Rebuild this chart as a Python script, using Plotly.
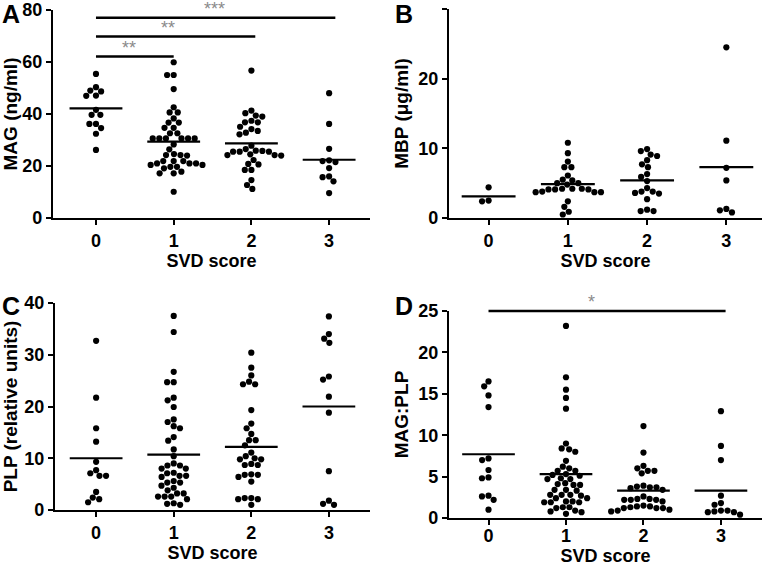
import math
import plotly.graph_objects as go

# ---------------- data ----------------
svd_categories = [0, 1, 2, 3]
svd_tick_labels = ["0", "1", "2", "3"]

# Panel A: MAG (ng/ml)
mag_svd0 = [55.4, 50.3, 49.0, 48.7, 47.0, 47.1, 41.6, 39.7, 39.7, 36.2, 36.2, 34.6, 32.4, 26.2]
mag_svd1 = [59.9, 55.0, 55.0, 49.6, 42.6, 40.6, 40.6, 38.3, 36.7, 36.7, 34.7, 34.7, 32.6, 32.6,
            30.6, 30.6, 30.6, 30.6, 30.6, 30.6, 28.3, 26.4, 24.6, 24.2, 24.2, 24.0, 21.9, 21.9,
            21.9, 21.0, 21.0, 21.0, 20.4, 20.4, 19.7, 19.7, 19.1, 17.8, 17.2, 17.2, 10.1]
mag_svd2 = [56.7, 41.3, 40.3, 39.4, 39.0, 37.4, 36.8, 36.8, 35.1, 34.2, 33.5, 32.8, 32.2, 27.8,
            26.5, 25.9, 25.8, 25.5, 25.5, 25.5, 24.5, 24.2, 24.2, 24.0, 22.3, 20.8, 20.6, 18.5,
            18.5, 14.6, 12.7, 11.2]
mag_svd3 = [48.0, 36.2, 26.6, 21.9, 21.5, 22.2, 19.2, 15.7, 16.0, 14.1, 9.6]
mag_means = [42.2, 29.4, 28.7, 22.4]

# Panel B: MBP (ug/ml)
mbp_svd0 = [4.4, 2.4, 2.5]
mbp_svd1 = [10.8, 9.3, 8.1, 7.3, 7.3, 6.1, 5.4, 5.5, 5.0, 5.0, 4.8, 4.2, 4.1, 4.1, 4.2, 4.1,
            4.2, 3.7, 3.7, 3.8, 3.7, 2.4, 1.6, 0.9, 0.5]
mbp_svd2 = [9.9, 9.6, 9.1, 8.9, 8.3, 7.7, 7.3, 6.3, 5.9, 5.3, 4.3, 3.8, 3.8, 3.6, 3.5, 2.7,
            1.2, 1.0, 1.0]
mbp_svd3 = [24.5, 11.1, 7.2, 5.4, 1.3, 1.1, 0.8]
mbp_means = [3.1, 4.85, 5.4, 7.3]

# Panel C: PLP (relative units)
plp_svd0 = [32.7, 21.7, 15.8, 13.2, 9.3, 7.1, 6.6, 6.6, 7.7, 3.5, 2.4, 2.1, 1.5]
plp_svd1 = [37.5, 34.4, 26.7, 24.7, 24.7, 21.7, 21.2, 19.9, 17.5, 17.0, 16.2, 15.8, 14.1, 13.4,
            11.7, 10.4, 9.0, 8.6, 8.6, 8.0, 8.0, 7.2, 7.1, 6.6, 6.6, 6.4, 5.6, 5.3, 5.3, 4.7,
            4.3, 3.8, 3.2, 3.2, 2.6, 2.6, 2.6, 2.1, 1.3, 1.2, 1.0]
plp_svd2 = [30.4, 27.5, 26.0, 24.3, 24.3, 24.8, 19.3, 16.7, 15.8, 14.7, 13.5, 13.5, 12.5, 11.1,
            10.4, 9.8, 9.8, 10.0, 8.7, 8.9, 8.7, 6.8, 6.9, 6.4, 6.8, 5.5, 2.1, 2.3, 2.1, 2.3, 1.0]
plp_svd3 = [37.4, 34.0, 33.1, 32.3, 25.8, 25.2, 21.9, 18.8, 7.5, 1.8, 1.0, 1.2]
plp_means = [10.0, 10.7, 12.2, 20.0]

# Panel D: MAG:PLP ratio
ratio_svd0 = [16.5, 15.9, 14.8, 13.4, 7.2, 7.0, 5.8, 4.9, 4.8, 2.7, 2.6, 2.2, 1.0]
ratio_svd1 = [23.2, 17.0, 15.5, 14.5, 13.2, 9.0, 8.4, 8.3, 8.0, 6.9, 6.0, 6.2, 5.7, 5.7, 5.1,
              5.2, 5.3, 4.7, 4.7, 4.8, 4.1, 4.0, 4.2, 4.0, 3.4, 3.3, 3.4, 2.8, 2.7, 2.8, 2.4,
              2.4, 2.8, 1.9, 1.9, 2.0, 1.9, 2.0, 1.3, 1.2, 1.3, 0.8, 0.5, 0.7, 0.9]
ratio_svd2 = [11.1, 7.9, 6.3, 5.7, 5.4, 5.7, 6.0, 3.9, 3.7, 3.6, 3.4, 3.7, 3.8, 2.2, 2.2, 2.0,
              2.3, 2.6, 2.2, 2.3, 1.4, 1.3, 1.4, 1.2, 1.5, 1.2, 1.2, 1.0, 0.8, 0.9]
ratio_svd3 = [12.9, 8.7, 7.0, 2.7, 1.8, 1.6, 0.9, 0.7, 0.4, 0.7, 0.8, 0.9]
ratio_means = [7.7, 5.3, 3.3, 3.3]

# significance brackets: (from category, to category, level, stars, star x position)
mag_sig = [(0, 1.0, 62.1, "**", 0.42), (0, 2.05, 69.8, "**", 0.93), (0, 3.08, 77.0, "***", 1.52)]
ratio_sig = [(0, 3.06, 25.0, "*", 1.33)]

# ---------------- layout geometry ----------------
W, H = 765, 566
FONT = "Liberation Sans, Arial, sans-serif"

panels = [
    dict(letter="A", box=(53, 370, 10, 218), xr=(-0.553, 3.526), yr=(0, 80), dtick=20,
         ytitle="MAG (ng/ml)", groups=[mag_svd0, mag_svd1, mag_svd2, mag_svd3],
         means=mag_means, sig=mag_sig, letter_pos=(11, 14), xlab_shift=0, xtitle_gap=3),
    dict(letter="B", box=(449, 762, 9, 218), xr=(-0.50, 3.45), yr=(0, 30), dtick=10,
         ytitle="MBP (\u03bcg/ml)", groups=[mbp_svd0, mbp_svd1, mbp_svd2, mbp_svd3],
         means=mbp_means, sig=[], letter_pos=(404, 14), xlab_shift=0, xtitle_gap=3),
    dict(letter="C", box=(55, 370, 303, 510), xr=(-0.53, 3.53), yr=(0, 40), dtick=10,
         ytitle="PLP (relative units)", groups=[plp_svd0, plp_svd1, plp_svd2, plp_svd3],
         means=plp_means, sig=[], letter_pos=(11, 306), xlab_shift=0, xtitle_gap=3),
    dict(letter="D", box=(449, 762, 311, 518), xr=(-0.51, 3.53), yr=(0, 25), dtick=5,
         ytitle="MAG:PLP", groups=[ratio_svd0, ratio_svd1, ratio_svd2, ratio_svd3],
         means=ratio_means, sig=ratio_sig, letter_pos=(404, 306), xlab_shift=-5, xtitle_gap=1),
]


def swarm(values, ppx, ppy, d=6.6):
    """Deterministic beeswarm offsets (in x data units)."""
    n = len(values)
    order = sorted(range(n), key=lambda i: -values[i])
    placed = []
    offs = [0.0] * n
    for i in order:
        y = values[i] * ppy
        cands = [0.0]
        for (px, py) in placed:
            dy = y - py
            if abs(dy) < d:
                dx = math.sqrt(d * d - dy * dy)
                cands += [px + dx, px - dx]
        cands.sort(key=lambda c: (round(abs(c), 6), c))
        for c in cands:
            if all((c - px) ** 2 + (y - py) ** 2 >= d * d - 1e-6 for px, py in placed):
                offs[i] = c
                placed.append((c, y))
                break
    return [o / ppx for o in offs]


fig = go.Figure()
annotations = []
shapes = []
layout_axes = {}

for k, p in enumerate(panels):
    x0, x1, y0, y1 = p["box"]
    xa = "x" if k == 0 else f"x{k+1}"
    ya = "y" if k == 0 else f"y{k+1}"
    xkey = "xaxis" if k == 0 else f"xaxis{k+1}"
    ykey = "yaxis" if k == 0 else f"yaxis{k+1}"
    ppx = (x1 - x0) / (p["xr"][1] - p["xr"][0])
    ppy = (y1 - y0) / (p["yr"][1] - p["yr"][0])

    xs, ys = [], []
    for cat, vals in zip(svd_categories, p["groups"]):
        offs = swarm(vals, ppx, ppy)
        xs += [cat + o for o in offs]
        ys += list(vals)
    fig.add_trace(go.Scatter(x=xs, y=ys, mode="markers", xaxis=xa, yaxis=ya,
                             marker=dict(color="black", size=6.2, line=dict(width=0)),
                             showlegend=False, hoverinfo="y", cliponaxis=False))

    # mean lines
    mx, my = [], []
    for cat, m in zip(svd_categories, p["means"]):
        mx += [cat - 0.34, cat + 0.34, None]
        my += [m, m, None]
    fig.add_trace(go.Scatter(x=mx, y=my, mode="lines", xaxis=xa, yaxis=ya,
                             line=dict(color="black", width=2.2), showlegend=False,
                             hoverinfo="skip"))

    # significance brackets (axis-domain referenced so they are not clipped)
    xr0, xr1 = p["xr"]
    yr0, yr1 = p["yr"]
    for (a, b, lvl, stars, sx) in p["sig"]:
        fy = (lvl - yr0) / (yr1 - yr0)
        shapes.append(dict(type="line", xref=f"{xa} domain", yref=f"{ya} domain",
                           x0=(a - xr0) / (xr1 - xr0), x1=(b - xr0) / (xr1 - xr0),
                           y0=fy, y1=fy, line=dict(color="black", width=2.6)))
        annotations.append(dict(x=sx, y=lvl, xref=xa, yref=ya, text=stars, showarrow=False,
                                yanchor="bottom", yshift=-3,
                                font=dict(family=FONT, size=18, color="#8a8a8a")))

    layout_axes[xkey] = dict(
        domain=[x0 / W, x1 / W], range=list(p["xr"]), anchor=ya,
        tickmode="array", tickvals=svd_categories, ticktext=svd_tick_labels,
        showline=True, linecolor="black", linewidth=2.2, ticks="outside", ticklen=5,
        tickwidth=2.2, tickcolor="black", showgrid=False, zeroline=False,
        ticklabelstandoff=p["xlab_shift"],
        tickfont=dict(family=FONT, size=18, color="black", weight="bold"),
        title=dict(text="SVD score", standoff=p["xtitle_gap"],
                   font=dict(family=FONT, size=18, color="black", weight="bold")),
    )
    layout_axes[ykey] = dict(
        domain=[1 - y1 / H, 1 - y0 / H], range=list(p["yr"]), anchor=xa,
        tickmode="linear", tick0=0, dtick=p["dtick"],
        showline=True, linecolor="black", linewidth=2.2, ticks="outside", ticklen=5,
        tickwidth=2.2, tickcolor="black", showgrid=False, zeroline=False,
        tickfont=dict(family=FONT, size=18, color="black", weight="bold"),
        title=dict(text=p["ytitle"], standoff=5,
                   font=dict(family=FONT, size=19, color="black", weight="bold")),
    )

    lx, ly = p["letter_pos"]
    annotations.append(dict(x=lx / W, y=1 - ly / H, xref="paper", yref="paper",
                            text=p["letter"], showarrow=False, xanchor="center",
                            yanchor="middle",
                            font=dict(family=FONT, size=25, color="black", weight="bold")))

fig.update_layout(
    width=W, height=H, margin=dict(l=0, r=0, t=0, b=0, autoexpand=False),
    paper_bgcolor="white", plot_bgcolor="white", showlegend=False,
    annotations=annotations, shapes=shapes, **layout_axes,
)

fig.write_html("out.html", config={"displayModeBar": False},
               post_script="document.body.style.margin='0';document.body.style.padding='0';")
